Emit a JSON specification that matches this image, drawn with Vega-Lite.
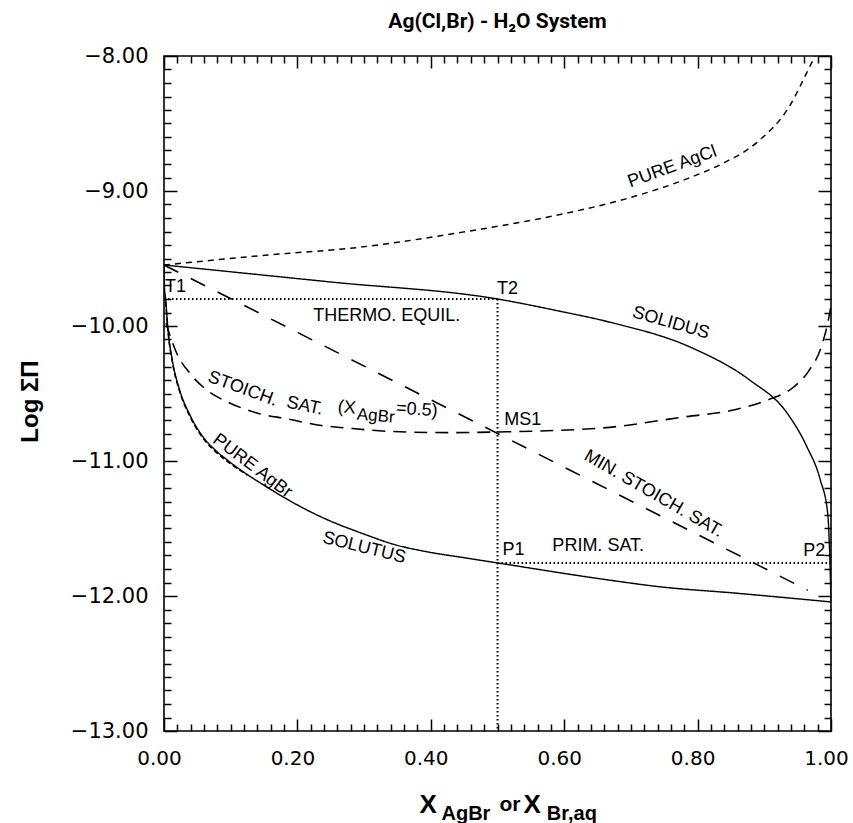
{
  "$schema": "https://vega.github.io/schema/vega-lite/v6.json",
  "width": 667,
  "height": 675,
  "autosize": {"type": "none"},
  "padding": {"left": 164, "top": 56, "right": 22, "bottom": 92},
  "title": {"text": "Ag(Cl,Br) - H₂O System", "font": "Roboto", "fontSize": 21, "fontWeight": "bold", "color": "black", "offset": 13, "anchor": "middle"},
  "config": {"view": {"stroke": "black", "strokeWidth": 1.6}, "axis": {"grid": false}},
  "datasets": {
    "curves": [
      {"c": "solidus", "i": 0, "x": 0, "y": -9.548},
      {"c": "solidus", "i": 1, "x": 0.25, "y": -9.674},
      {"c": "solidus", "i": 2, "x": 0.5, "y": -9.8},
      {"c": "solidus", "i": 3, "x": 0.592, "y": -9.889},
      {"c": "solidus", "i": 4, "x": 0.667, "y": -9.97},
      {"c": "solidus", "i": 5, "x": 0.792, "y": -10.163},
      {"c": "solidus", "i": 6, "x": 0.878, "y": -10.4},
      {"c": "solidus", "i": 7, "x": 0.934, "y": -10.644},
      {"c": "solidus", "i": 8, "x": 0.964, "y": -10.896},
      {"c": "solidus", "i": 9, "x": 0.984, "y": -11.141},
      {"c": "solidus", "i": 10, "x": 0.995, "y": -11.385},
      {"c": "solidus", "i": 11, "x": 0.998, "y": -11.681},
      {"c": "solidus", "i": 12, "x": 1.0, "y": -12.044},
      {"c": "solutus", "i": 0, "x": 0, "y": -9.548},
      {"c": "solutus", "i": 1, "x": 0.0005, "y": -9.7},
      {"c": "solutus", "i": 2, "x": 0.0025, "y": -9.807},
      {"c": "solutus", "i": 3, "x": 0.006, "y": -10.03},
      {"c": "solutus", "i": 4, "x": 0.0124, "y": -10.252},
      {"c": "solutus", "i": 5, "x": 0.0234, "y": -10.474},
      {"c": "solutus", "i": 6, "x": 0.0388, "y": -10.659},
      {"c": "solutus", "i": 7, "x": 0.0586, "y": -10.822},
      {"c": "solutus", "i": 8, "x": 0.0768, "y": -10.919},
      {"c": "solutus", "i": 9, "x": 0.0949, "y": -10.993},
      {"c": "solutus", "i": 10, "x": 0.119, "y": -11.081},
      {"c": "solutus", "i": 11, "x": 0.1446, "y": -11.163},
      {"c": "solutus", "i": 12, "x": 0.1945, "y": -11.311},
      {"c": "solutus", "i": 13, "x": 0.2457, "y": -11.437},
      {"c": "solutus", "i": 14, "x": 0.2954, "y": -11.533},
      {"c": "solutus", "i": 15, "x": 0.345, "y": -11.618},
      {"c": "solutus", "i": 16, "x": 0.396, "y": -11.674},
      {"c": "solutus", "i": 17, "x": 0.4456, "y": -11.713},
      {"c": "solutus", "i": 18, "x": 0.5, "y": -11.755},
      {"c": "solutus", "i": 19, "x": 0.656, "y": -11.874},
      {"c": "solutus", "i": 20, "x": 0.746, "y": -11.933},
      {"c": "solutus", "i": 21, "x": 0.855, "y": -11.978},
      {"c": "solutus", "i": 22, "x": 1.0, "y": -12.044},
      {"c": "agbr", "i": 0, "x": 0.0025, "y": -9.82},
      {"c": "agbr", "i": 1, "x": 0.006, "y": -10.04},
      {"c": "agbr", "i": 2, "x": 0.0124, "y": -10.262},
      {"c": "agbr", "i": 3, "x": 0.0234, "y": -10.484},
      {"c": "agbr", "i": 4, "x": 0.0388, "y": -10.669},
      {"c": "agbr", "i": 5, "x": 0.0586, "y": -10.832},
      {"c": "agbr", "i": 6, "x": 0.0768, "y": -10.929},
      {"c": "agbr", "i": 7, "x": 0.0949, "y": -11.003},
      {"c": "agbr", "i": 8, "x": 0.125, "y": -11.105},
      {"c": "agcl", "i": 0, "x": 0, "y": -9.548},
      {"c": "agcl", "i": 1, "x": 0.156, "y": -9.474},
      {"c": "agcl", "i": 2, "x": 0.291, "y": -9.418},
      {"c": "agcl", "i": 3, "x": 0.441, "y": -9.31},
      {"c": "agcl", "i": 4, "x": 0.59, "y": -9.178},
      {"c": "agcl", "i": 5, "x": 0.691, "y": -9.06},
      {"c": "agcl", "i": 6, "x": 0.789, "y": -8.9},
      {"c": "agcl", "i": 7, "x": 0.84, "y": -8.79},
      {"c": "agcl", "i": 8, "x": 0.889, "y": -8.64},
      {"c": "agcl", "i": 9, "x": 0.938, "y": -8.37},
      {"c": "agcl", "i": 10, "x": 0.966, "y": -8.1},
      {"c": "agcl", "i": 11, "x": 0.976, "y": -8.0},
      {"c": "stoich", "i": 0, "x": 0.003, "y": -9.98},
      {"c": "stoich", "i": 1, "x": 0.0183, "y": -10.193},
      {"c": "stoich", "i": 2, "x": 0.041, "y": -10.363},
      {"c": "stoich", "i": 3, "x": 0.064, "y": -10.474},
      {"c": "stoich", "i": 4, "x": 0.0985, "y": -10.57},
      {"c": "stoich", "i": 5, "x": 0.139, "y": -10.644},
      {"c": "stoich", "i": 6, "x": 0.186, "y": -10.689},
      {"c": "stoich", "i": 7, "x": 0.23, "y": -10.733},
      {"c": "stoich", "i": 8, "x": 0.275, "y": -10.756},
      {"c": "stoich", "i": 9, "x": 0.343, "y": -10.782},
      {"c": "stoich", "i": 10, "x": 0.43, "y": -10.79},
      {"c": "stoich", "i": 11, "x": 0.5, "y": -10.785},
      {"c": "stoich", "i": 12, "x": 0.655, "y": -10.756},
      {"c": "stoich", "i": 13, "x": 0.779, "y": -10.674},
      {"c": "stoich", "i": 14, "x": 0.854, "y": -10.622},
      {"c": "stoich", "i": 15, "x": 0.905, "y": -10.548},
      {"c": "stoich", "i": 16, "x": 0.944, "y": -10.452},
      {"c": "stoich", "i": 17, "x": 0.967, "y": -10.33},
      {"c": "stoich", "i": 18, "x": 0.985, "y": -10.16},
      {"c": "stoich", "i": 19, "x": 0.995, "y": -9.98},
      {"c": "stoich", "i": 20, "x": 1.0, "y": -9.85},
      {"c": "minstoich", "i": 0, "x": 0, "y": -9.548},
      {"c": "minstoich", "i": 1, "x": 0.965, "y": -11.957}
    ],
    "dotted": [
      {"c": "thermo", "i": 0, "x": 0, "y": -9.8},
      {"c": "thermo", "i": 1, "x": 0.5, "y": -9.8},
      {"c": "vert", "i": 0, "x": 0.5, "y": -9.8},
      {"c": "vert", "i": 1, "x": 0.5, "y": -13},
      {"c": "prim", "i": 0, "x": 0.5, "y": -11.755},
      {"c": "prim", "i": 1, "x": 1.0, "y": -11.755}
    ],
    "labels": [
      {"label": "T1", "x": 0.0174, "y": -9.711},
      {"label": "T2", "x": 0.515, "y": -9.726},
      {"label": "THERMO. EQUIL.", "x": 0.334, "y": -9.926},
      {"label": "MS1", "x": 0.538, "y": -10.696},
      {"label": "P1", "x": 0.524, "y": -11.659},
      {"label": "PRIM. SAT.", "x": 0.651, "y": -11.63},
      {"label": "P2", "x": 0.975, "y": -11.667},
      {"label": "PURE AgCl", "x": 0.762, "y": -8.822},
      {"label": "SOLIDUS", "x": 0.76, "y": -9.978},
      {"label": "STOICH.", "x": 0.118, "y": -10.467},
      {"label": "SAT.", "x": 0.211, "y": -10.593},
      {"label": "(X", "x": 0.274, "y": -10.607},
      {"label": "AgBr", "x": 0.3175, "y": -10.667},
      {"label": "=0.5)", "x": 0.379, "y": -10.622},
      {"label": "MIN. STOICH. SAT.", "x": 0.734, "y": -11.244},
      {"label": "PURE AgBr", "x": 0.1325, "y": -11.037},
      {"label": "SOLUTUS", "x": 0.3, "y": -11.644}
    ],
    "xtitle": [
      {"t": "X", "r": "main", "x": 0.383, "y": -13.607},
      {"t": "AgBr", "r": "sub", "x": 0.416, "y": -13.66},
      {"t": "or", "r": "or", "x": 0.503, "y": -13.59},
      {"t": "X", "r": "main", "x": 0.539, "y": -13.607},
      {"t": "Br,aq", "r": "sub", "x": 0.574, "y": -13.66}
    ]
  },
  "resolve": {"axis": {"x": "independent", "y": "independent"}},
  "layer": [
    {
      "data": {"name": "curves"},
      "mark": {"type": "line", "color": "black", "interpolate": "monotone", "clip": true},
      "encoding": {
        "x": {"field": "x", "type": "quantitative", "scale": {"domain": [0, 1], "nice": false, "zero": false},
          "axis": {"orient": "bottom", "title": null, "values": [0, 0.2, 0.4, 0.6, 0.8, 1], "format": ".2f",
            "offset": -12, "tickSize": 12, "domain": false, "tickColor": "black", "tickWidth": 1.5,
            "labelPadding": 17, "labelOffset": -5, "labelFont": "DejaVu Sans", "labelFontSize": 20, "labelColor": "black",
            "labelOverlap": false, "labelFlush": false, "labelBound": false}},
        "y": {"field": "y", "type": "quantitative", "scale": {"domain": [-13, -8], "nice": false, "zero": false},
          "axis": {"orient": "left", "values": [-13, -12, -11, -10, -9, -8], "format": ".2f",
            "offset": -13, "tickSize": 13, "domain": false, "tickColor": "black", "tickWidth": 1.5,
            "labelPadding": 16, "labelFont": "DejaVu Sans", "labelFontSize": 21, "labelColor": "black",
            "labelOverlap": false, "labelFlush": false, "labelBound": false,
            "title": "Log ΣΠ", "titleFont": "Liberation Sans", "titleFontSize": 24, "titleFontWeight": "bold", "titleColor": "black",
            "titleX": -147, "titleY": 345, "titleAngle": -90, "titleAlign": "center", "titleBaseline": "middle"}},
        "order": {"field": "i", "type": "quantitative"},
        "strokeDash": {"field": "c", "type": "nominal", "legend": null,
          "scale": {"domain": ["solidus", "solutus", "agcl", "agbr", "stoich", "minstoich"], "range": [[1, 0], [1, 0], [6, 5], [5, 3], [13, 8], [16, 14]]}},
        "strokeWidth": {"field": "c", "type": "nominal", "legend": null,
          "scale": {"domain": ["solidus", "solutus", "agcl", "agbr", "stoich", "minstoich"], "range": [1.4, 1.6, 1.3, 2.2, 1.3, 1.3]}}
      }
    },
    {
      "data": {"name": "dotted"},
      "mark": {"type": "line", "color": "black", "strokeDash": [1.5, 2.5], "strokeWidth": 2, "clip": true},
      "encoding": {
        "x": {"field": "x", "type": "quantitative", "scale": {"domain": [0, 1], "nice": false, "zero": false},
          "axis": {"orient": "bottom", "title": null, "labels": false, "domain": false, "offset": -7, "tickSize": 7,
            "values": [0.02,0.04,0.06,0.08,0.1,0.12,0.14,0.16,0.18,0.22,0.24,0.26,0.28,0.3,0.32,0.34,0.36,0.38,0.42,0.44,0.46,0.48,0.5,0.52,0.54,0.56,0.58,0.62,0.64,0.66,0.68,0.7,0.72,0.74,0.76,0.78,0.82,0.84,0.86,0.88,0.9,0.92,0.94,0.96,0.98],
            "tickColor": "black", "tickWidth": 1.5}},
        "y": {"field": "y", "type": "quantitative", "scale": {"domain": [-13, -8], "nice": false, "zero": false},
          "axis": {"orient": "left", "title": null, "labels": false, "domain": false, "offset": -7, "tickSize": 7,
            "values": [-12.9,-12.8,-12.7,-12.6,-12.5,-12.4,-12.3,-12.2,-12.1,-11.9,-11.8,-11.7,-11.6,-11.5,-11.4,-11.3,-11.2,-11.1,-10.9,-10.8,-10.7,-10.6,-10.5,-10.4,-10.3,-10.2,-10.1,-9.9,-9.8,-9.7,-9.6,-9.5,-9.4,-9.3,-9.2,-9.1,-8.9,-8.8,-8.7,-8.6,-8.5,-8.4,-8.3,-8.2,-8.1],
            "tickColor": "black", "tickWidth": 1.5}},
        "detail": {"field": "c", "type": "nominal"},
        "order": {"field": "i", "type": "quantitative"}
      }
    },
    {
      "data": {"name": "labels"},
      "transform": [{"filter": "indexof(['T1','T2','THERMO. EQUIL.','MS1','P1','PRIM. SAT.','P2'], datum.label) >= 0"}],
      "mark": {"type": "text", "font": "Liberation Sans", "fontSize": 18, "color": "black", "align": "center", "baseline": "middle"},
      "encoding": {
        "x": {"field": "x", "type": "quantitative", "scale": {"domain": [0, 1], "nice": false, "zero": false},
          "axis": {"orient": "top", "title": null, "labels": false, "domain": false, "offset": -12, "tickSize": 12,
            "values": [0, 0.2, 0.4, 0.6, 0.8, 1], "tickColor": "black", "tickWidth": 1.5}},
        "y": {"field": "y", "type": "quantitative", "scale": {"domain": [-13, -8], "nice": false, "zero": false},
          "axis": {"orient": "right", "title": null, "labels": false, "domain": false, "offset": -13, "tickSize": 13,
            "values": [-13, -12, -11, -10, -9, -8], "tickColor": "black", "tickWidth": 1.5}},
        "text": {"field": "label"}
      }
    },
    {"data": {"name": "labels"}, "transform": [{"filter": "datum.label == 'PURE AgCl'"}],
      "mark": {"type": "text", "angle": -20, "font": "Liberation Sans", "fontSize": 18, "color": "black", "align": "center", "baseline": "middle"},
      "encoding": {
        "x": {"field": "x", "type": "quantitative", "scale": {"domain": [0, 1], "nice": false, "zero": false},
          "axis": {"orient": "top", "title": null, "labels": false, "domain": false, "offset": -7, "tickSize": 7,
            "values": [0.02,0.04,0.06,0.08,0.1,0.12,0.14,0.16,0.18,0.22,0.24,0.26,0.28,0.3,0.32,0.34,0.36,0.38,0.42,0.44,0.46,0.48,0.5,0.52,0.54,0.56,0.58,0.62,0.64,0.66,0.68,0.7,0.72,0.74,0.76,0.78,0.82,0.84,0.86,0.88,0.9,0.92,0.94,0.96,0.98],
            "tickColor": "black", "tickWidth": 1.5}},
        "y": {"field": "y", "type": "quantitative", "scale": {"domain": [-13, -8], "nice": false, "zero": false},
          "axis": {"orient": "right", "title": null, "labels": false, "domain": false, "offset": -7, "tickSize": 7,
            "values": [-12.9,-12.8,-12.7,-12.6,-12.5,-12.4,-12.3,-12.2,-12.1,-11.9,-11.8,-11.7,-11.6,-11.5,-11.4,-11.3,-11.2,-11.1,-10.9,-10.8,-10.7,-10.6,-10.5,-10.4,-10.3,-10.2,-10.1,-9.9,-9.8,-9.7,-9.6,-9.5,-9.4,-9.3,-9.2,-9.1,-8.9,-8.8,-8.7,-8.6,-8.5,-8.4,-8.3,-8.2,-8.1],
            "tickColor": "black", "tickWidth": 1.5}},
        "text": {"field": "label"}}},
    {"data": {"name": "labels"}, "transform": [{"filter": "datum.label == 'SOLIDUS'"}],
      "mark": {"type": "text", "angle": 16, "font": "Liberation Sans", "fontSize": 18, "color": "black", "align": "center", "baseline": "middle"},
      "encoding": {"x": {"field": "x", "type": "quantitative", "scale": {"domain": [0, 1], "nice": false, "zero": false}, "axis": null}, "y": {"field": "y", "type": "quantitative", "scale": {"domain": [-13, -8], "nice": false, "zero": false}, "axis": null}, "text": {"field": "label"}}},
    {"data": {"name": "labels"}, "transform": [{"filter": "datum.label == 'STOICH.'"}],
      "mark": {"type": "text", "angle": 20, "font": "Liberation Sans", "fontSize": 18, "color": "black", "align": "center", "baseline": "middle"},
      "encoding": {"x": {"field": "x", "type": "quantitative", "scale": {"domain": [0, 1], "nice": false, "zero": false}, "axis": null}, "y": {"field": "y", "type": "quantitative", "scale": {"domain": [-13, -8], "nice": false, "zero": false}, "axis": null}, "text": {"field": "label"}}},
    {"data": {"name": "labels"}, "transform": [{"filter": "datum.label == 'SAT.'"}],
      "mark": {"type": "text", "angle": 12, "font": "Liberation Sans", "fontSize": 18, "color": "black", "align": "center", "baseline": "middle"},
      "encoding": {"x": {"field": "x", "type": "quantitative", "scale": {"domain": [0, 1], "nice": false, "zero": false}, "axis": null}, "y": {"field": "y", "type": "quantitative", "scale": {"domain": [-13, -8], "nice": false, "zero": false}, "axis": null}, "text": {"field": "label"}}},
    {"data": {"name": "labels"}, "transform": [{"filter": "datum.label == '(X'"}],
      "mark": {"type": "text", "angle": 6, "font": "Liberation Sans", "fontSize": 18, "color": "black", "align": "center", "baseline": "middle"},
      "encoding": {"x": {"field": "x", "type": "quantitative", "scale": {"domain": [0, 1], "nice": false, "zero": false}, "axis": null}, "y": {"field": "y", "type": "quantitative", "scale": {"domain": [-13, -8], "nice": false, "zero": false}, "axis": null}, "text": {"field": "label"}}},
    {"data": {"name": "labels"}, "transform": [{"filter": "datum.label == 'AgBr'"}],
      "mark": {"type": "text", "angle": 5, "font": "Liberation Sans", "fontSize": 17, "color": "black", "align": "center", "baseline": "middle"},
      "encoding": {"x": {"field": "x", "type": "quantitative", "scale": {"domain": [0, 1], "nice": false, "zero": false}, "axis": null}, "y": {"field": "y", "type": "quantitative", "scale": {"domain": [-13, -8], "nice": false, "zero": false}, "axis": null}, "text": {"field": "label"}}},
    {"data": {"name": "labels"}, "transform": [{"filter": "datum.label == '=0.5)'"}],
      "mark": {"type": "text", "angle": 4, "font": "Liberation Sans", "fontSize": 18, "color": "black", "align": "center", "baseline": "middle"},
      "encoding": {"x": {"field": "x", "type": "quantitative", "scale": {"domain": [0, 1], "nice": false, "zero": false}, "axis": null}, "y": {"field": "y", "type": "quantitative", "scale": {"domain": [-13, -8], "nice": false, "zero": false}, "axis": null}, "text": {"field": "label"}}},
    {"data": {"name": "labels"}, "transform": [{"filter": "datum.label == 'MIN. STOICH. SAT.'"}],
      "mark": {"type": "text", "angle": 30, "font": "Liberation Sans", "fontSize": 18, "color": "black", "align": "center", "baseline": "middle"},
      "encoding": {"x": {"field": "x", "type": "quantitative", "scale": {"domain": [0, 1], "nice": false, "zero": false}, "axis": null}, "y": {"field": "y", "type": "quantitative", "scale": {"domain": [-13, -8], "nice": false, "zero": false}, "axis": null}, "text": {"field": "label"}}},
    {"data": {"name": "labels"}, "transform": [{"filter": "datum.label == 'PURE AgBr'"}],
      "mark": {"type": "text", "angle": 37, "font": "Liberation Sans", "fontSize": 18, "color": "black", "align": "center", "baseline": "middle"},
      "encoding": {"x": {"field": "x", "type": "quantitative", "scale": {"domain": [0, 1], "nice": false, "zero": false}, "axis": null}, "y": {"field": "y", "type": "quantitative", "scale": {"domain": [-13, -8], "nice": false, "zero": false}, "axis": null}, "text": {"field": "label"}}},
    {"data": {"name": "labels"}, "transform": [{"filter": "datum.label == 'SOLUTUS'"}],
      "mark": {"type": "text", "angle": 14, "font": "Liberation Sans", "fontSize": 18, "color": "black", "align": "center", "baseline": "middle"},
      "encoding": {"x": {"field": "x", "type": "quantitative", "scale": {"domain": [0, 1], "nice": false, "zero": false}, "axis": null}, "y": {"field": "y", "type": "quantitative", "scale": {"domain": [-13, -8], "nice": false, "zero": false}, "axis": null}, "text": {"field": "label"}}},
    {"data": {"name": "xtitle"}, "transform": [{"filter": "datum.r == 'main'"}],
      "mark": {"type": "text", "font": "Liberation Sans", "fontSize": 26, "fontWeight": "bold", "color": "black", "align": "left", "baseline": "alphabetic"},
      "encoding": {"x": {"field": "x", "type": "quantitative", "scale": {"domain": [0, 1], "nice": false, "zero": false}, "axis": null}, "y": {"field": "y", "type": "quantitative", "scale": {"domain": [-13, -8], "nice": false, "zero": false}, "axis": null}, "text": {"field": "t"}}},
    {"data": {"name": "xtitle"}, "transform": [{"filter": "datum.r == 'sub'"}],
      "mark": {"type": "text", "font": "Liberation Sans", "fontSize": 20, "fontWeight": "bold", "color": "black", "align": "left", "baseline": "alphabetic"},
      "encoding": {"x": {"field": "x", "type": "quantitative", "scale": {"domain": [0, 1], "nice": false, "zero": false}, "axis": null}, "y": {"field": "y", "type": "quantitative", "scale": {"domain": [-13, -8], "nice": false, "zero": false}, "axis": null}, "text": {"field": "t"}}},
    {"data": {"name": "xtitle"}, "transform": [{"filter": "datum.r == 'or'"}],
      "mark": {"type": "text", "font": "Liberation Sans", "fontSize": 21, "fontWeight": "bold", "color": "black", "align": "left", "baseline": "alphabetic"},
      "encoding": {"x": {"field": "x", "type": "quantitative", "scale": {"domain": [0, 1], "nice": false, "zero": false}, "axis": null}, "y": {"field": "y", "type": "quantitative", "scale": {"domain": [-13, -8], "nice": false, "zero": false}, "axis": null}, "text": {"field": "t"}}}
  ]
}
